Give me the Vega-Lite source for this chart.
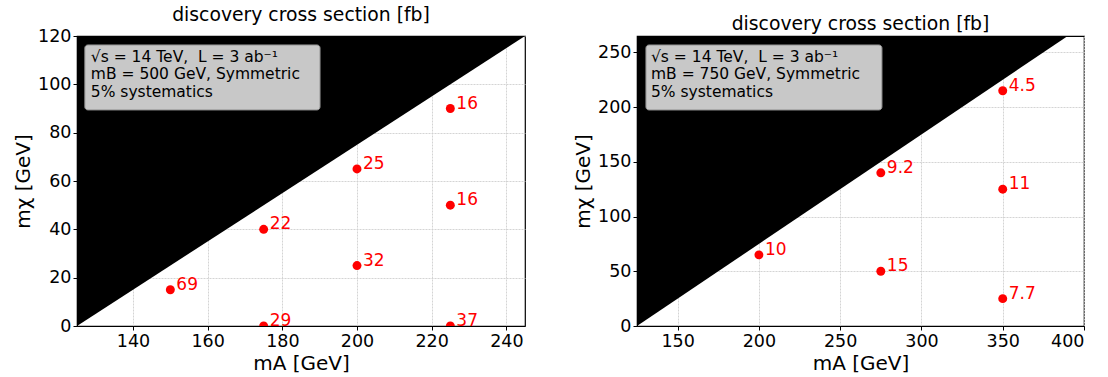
{
  "$schema": "https://vega.github.io/schema/vega-lite/v6.json",
  "background": "white",
  "padding": {"left": 12, "top": 5, "right": 5, "bottom": 2},
  "spacing": 46,
  "config": {
    "font": "DejaVu Sans",
    "view": {"stroke": "black", "strokeWidth": 1.2},
    "title": {"fontSize": 18.8, "fontWeight": "normal", "color": "black", "offset": 2},
    "axis": {
      "labelFontSize": 17.5, "labelColor": "black", "titleFontSize": 20, "titleFontWeight": "normal", "titleColor": "black",
      "domainColor": "black", "tickColor": "black", "tickSize": 4, "labelPadding": 2,
      "gridColor": "#cfcfcf", "gridDash": [2, 1], "gridOpacity": 0.9
    }
  },
  "datasets": {
    "left_pts": [
      {"mA": 150, "mchi": 15, "xs": "69"},
      {"mA": 175, "mchi": 40, "xs": "22"},
      {"mA": 175, "mchi": 0, "xs": "29"},
      {"mA": 200, "mchi": 65, "xs": "25"},
      {"mA": 200, "mchi": 25, "xs": "32"},
      {"mA": 225, "mchi": 90, "xs": "16"},
      {"mA": 225, "mchi": 50, "xs": "16"},
      {"mA": 225, "mchi": 0, "xs": "37"}
    ],
    "right_pts": [
      {"mA": 200, "mchi": 65, "xs": "10"},
      {"mA": 275, "mchi": 140, "xs": "9.2"},
      {"mA": 275, "mchi": 50, "xs": "15"},
      {"mA": 350, "mchi": 215, "xs": "4.5"},
      {"mA": 350, "mchi": 125, "xs": "11"},
      {"mA": 350, "mchi": 25, "xs": "7.7"}
    ],
    "left_edge": [{"mA": 125, "mchi": 0}, {"mA": 245, "mchi": 120}],
    "right_edge": [{"mA": 125, "mchi": 0}, {"mA": 390, "mchi": 265}]
  },
  "hconcat": [
    {
      "width": 448, "height": 290,
      "title": "discovery cross section [fb]",
      "layer": [
        {
          "data": {"name": "left_edge"},
          "mark": {"type": "area", "color": "black", "opacity": 1, "clip": true},
          "encoding": {
            "x": {"field": "mA", "type": "quantitative", "scale": {"domain": [125, 245], "nice": false, "zero": false},
                  "axis": {"title": "mA [GeV]", "values": [140, 160, 180, 200, 220, 240]}},
            "y": {"field": "mchi", "type": "quantitative", "scale": {"domain": [0, 120], "nice": false},
                  "axis": {"title": "mχ [GeV]", "values": [0, 20, 40, 60, 80, 100, 120]}},
            "y2": {"datum": 120}
          }
        },
        {
          "data": {"values": [{}]},
          "mark": {"type": "rect", "fill": "#c8c8c8", "fillOpacity": 1, "stroke": "#909090", "strokeWidth": 1, "cornerRadius": 3},
          "encoding": {
            "x": {"datum": 127.1}, "x2": {"datum": 190.1},
            "y": {"datum": 116.3}, "y2": {"datum": 89.4}
          }
        },
        {
          "data": {"values": [{"txt": "√s = 14 TeV,\u00a0\u00a0L = 3 ab⁻¹\n\u00a0mB = 500 GeV, Symmetric\n\u00a05% systematics"}]},
          "mark": {"type": "text", "align": "left", "baseline": "top", "fontSize": 15.5, "lineHeight": 17.5, "lineBreak": "\n", "color": "black", "dy": 5},
          "encoding": {
            "x": {"datum": 128.7}, "y": {"datum": 116.3},
            "text": {"field": "txt"}
          }
        },
        {
          "data": {"name": "left_pts"},
          "mark": {"type": "circle", "color": "red", "opacity": 1, "size": 80, "clip": true},
          "encoding": {
            "x": {"field": "mA", "type": "quantitative"},
            "y": {"field": "mchi", "type": "quantitative"}
          }
        },
        {
          "data": {"name": "left_pts"},
          "mark": {"type": "text", "color": "red", "fontSize": 17, "align": "left", "baseline": "middle", "dx": 6, "dy": -5, "clip": true},
          "encoding": {
            "x": {"field": "mA", "type": "quantitative"},
            "y": {"field": "mchi", "type": "quantitative"},
            "text": {"field": "xs"}
          }
        }
      ]
    },
    {
      "width": 447, "height": 290,
      "title": "discovery cross section [fb]",
      "layer": [
        {
          "data": {"name": "right_edge"},
          "mark": {"type": "area", "color": "black", "opacity": 1, "clip": true},
          "encoding": {
            "x": {"field": "mA", "type": "quantitative", "scale": {"domain": [125, 400], "nice": false, "zero": false},
                  "axis": {"title": "mA [GeV]", "values": [150, 200, 250, 300, 350, 400]}},
            "y": {"field": "mchi", "type": "quantitative", "scale": {"domain": [0, 265], "nice": false},
                  "axis": {"title": "mχ [GeV]", "values": [0, 50, 100, 150, 200, 250]}},
            "y2": {"datum": 265}
          }
        },
        {
          "data": {"values": [{}]},
          "mark": {"type": "rect", "fill": "#c8c8c8", "fillOpacity": 1, "stroke": "#909090", "strokeWidth": 1, "cornerRadius": 3},
          "encoding": {
            "x": {"datum": 130.5}, "x2": {"datum": 275.7},
            "y": {"datum": 256.8}, "y2": {"datum": 197.4}
          }
        },
        {
          "data": {"values": [{"txt": "√s = 14 TeV,\u00a0\u00a0L = 3 ab⁻¹\n\u00a0mB = 750 GeV, Symmetric\n\u00a05% systematics"}]},
          "mark": {"type": "text", "align": "left", "baseline": "top", "fontSize": 15.5, "lineHeight": 17.5, "lineBreak": "\n", "color": "black", "dy": 5},
          "encoding": {
            "x": {"datum": 133.6}, "y": {"datum": 256.8},
            "text": {"field": "txt"}
          }
        },
        {
          "data": {"name": "right_pts"},
          "mark": {"type": "circle", "color": "red", "opacity": 1, "size": 80, "clip": true},
          "encoding": {
            "x": {"field": "mA", "type": "quantitative"},
            "y": {"field": "mchi", "type": "quantitative"}
          }
        },
        {
          "data": {"name": "right_pts"},
          "mark": {"type": "text", "color": "red", "fontSize": 17, "align": "left", "baseline": "middle", "dx": 6, "dy": -5, "clip": true},
          "encoding": {
            "x": {"field": "mA", "type": "quantitative"},
            "y": {"field": "mchi", "type": "quantitative"},
            "text": {"field": "xs"}
          }
        }
      ]
    }
  ]
}
